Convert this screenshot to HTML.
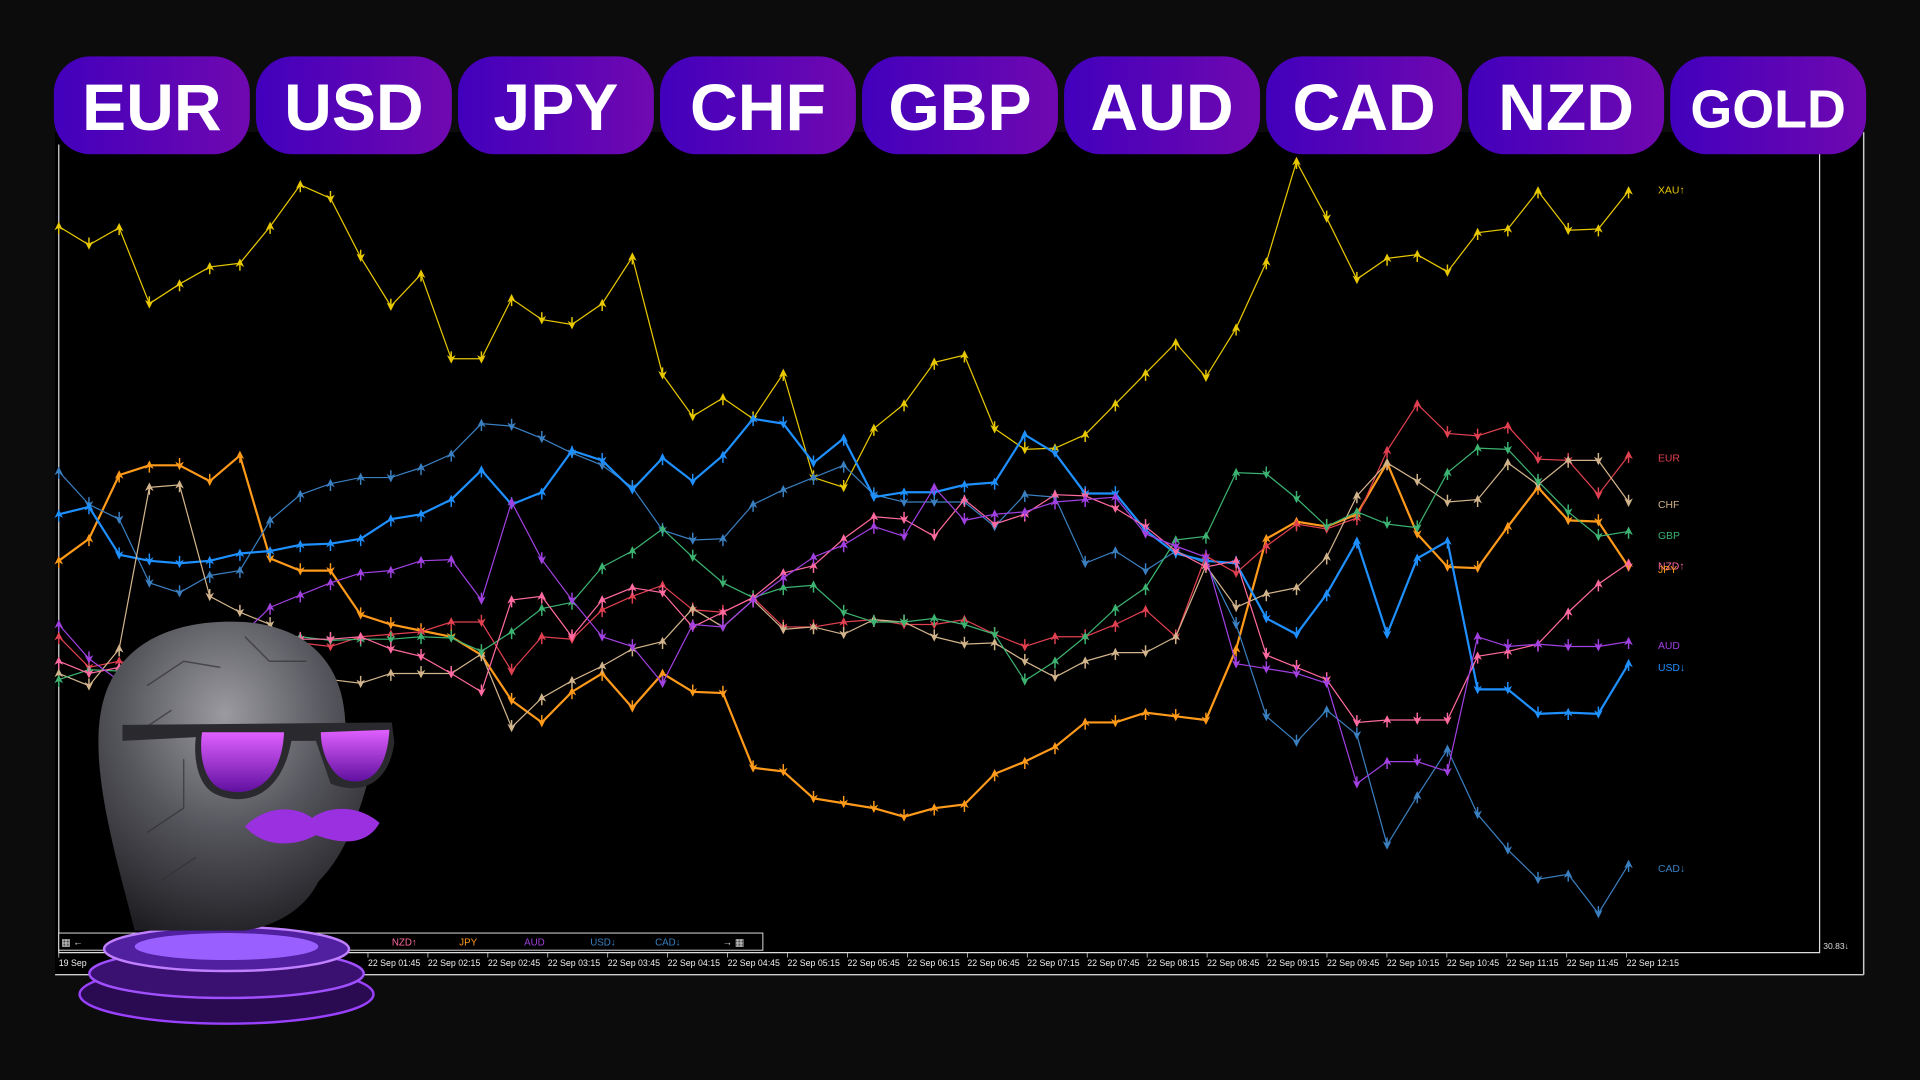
<!DOCTYPE html>
<html><head><meta charset="utf-8"><style>
html,body{margin:0;padding:0;background:#0c0c0c;width:1920px;height:1080px;overflow:hidden}
svg{display:block}
</style></head><body>
<svg id="s" width="1920" height="1080" viewBox="0 0 1568 882" xmlns="http://www.w3.org/2000/svg">
<defs>
<linearGradient id="pg" x1="0" x2="1" y1="0" y2="0"><stop offset="0" stop-color="#4200bc"/><stop offset="1" stop-color="#7008b0"/></linearGradient>
<radialGradient id="hd" cx="0.45" cy="0.3" r="0.75"><stop offset="0" stop-color="#9a9aa0"/><stop offset="0.5" stop-color="#55555c"/><stop offset="1" stop-color="#1e1e22"/></radialGradient>
<linearGradient id="gl" x1="0" x2="0" y1="0" y2="1"><stop offset="0" stop-color="#e060ff"/><stop offset="1" stop-color="#6010a0"/></linearGradient>
</defs>
<rect x="45" y="108" width="1477" height="688" fill="#000"/>
<line x1="1522" y1="108" x2="1522" y2="796" stroke="#ccc" stroke-width="1.2"/>
<line x1="45" y1="796" x2="1522" y2="796" stroke="#ccc" stroke-width="1.2"/>
<polyline points="48,118 48,778 1486,778 1486,118" fill="none" stroke="#ddd" stroke-width="1"/>
<text x="1489" y="775" fill="#ddd" font-family="Liberation Sans,sans-serif" font-size="7">30.83↓</text>
<g id="lines"></g>
<g id="axis" font-family="Liberation Sans,sans-serif" font-size="7.2" fill="#eee"></g>
<rect x="48" y="762" width="575" height="14" fill="#000" stroke="#ddd" stroke-width="0.8"/>
<g font-family="Liberation Sans,sans-serif" font-size="8">
<text x="50" y="772" fill="#ddd">▦ ←</text>
<text x="320" y="772" fill="#ff6aa0">NZD↑</text>
<text x="375" y="772" fill="#ff9a1a">JPY</text>
<text x="428" y="772" fill="#a040e0">AUD</text>
<text x="482" y="772" fill="#3a7fc0">USD↓</text>
<text x="535" y="772" fill="#3a7fc0">CAD↓</text>
<text x="590" y="772" fill="#ddd">→ ▦</text>
</g>
<g id="pills" font-family="Liberation Sans,DejaVu Sans,sans-serif" font-weight="bold" font-size="54" fill="#fff" text-anchor="middle"></g>
<!-- head -->
<g>
<ellipse cx="185" cy="812" rx="120" ry="24" fill="#2a0a50" stroke="#9a40ff" stroke-width="2"/>
<ellipse cx="185" cy="795" rx="112" ry="20" fill="#3a1070" stroke="#a050ff" stroke-width="2"/>
<ellipse cx="185" cy="775" rx="100" ry="18" fill="#5020a0" stroke="#c080ff" stroke-width="2"/>
<ellipse cx="185" cy="773" rx="75" ry="11" fill="#9a60ff"/>
<path d="M110,760 C95,700 70,620 85,570 C100,520 150,505 200,508 C250,512 280,540 282,590 L310,600 C300,640 290,690 260,720 C250,740 230,755 200,760 Z" fill="url(#hd)"/>
<g stroke="#333" stroke-width="1.2" fill="none" opacity="0.7">
<path d="M120,560 L150,540 L180,545 M110,600 L140,580 M120,680 L150,660 L150,620 M200,520 L220,540 L250,540 M130,720 L160,700"/>
</g>
<path d="M100,592 L320,590 L322,606 C318,640 295,650 270,640 L258,605 L238,605 C230,650 200,660 175,648 C160,640 158,615 160,602 L100,605 Z" fill="#2a2a2e"/>
<path d="M165,598 L232,598 C230,640 205,652 182,645 C168,640 162,620 165,598 Z" fill="url(#gl)"/>
<path d="M262,598 L318,596 C316,632 300,642 282,637 C270,632 262,615 262,598 Z" fill="url(#gl)"/>
<path d="M200,675 C220,655 245,660 255,668 C265,660 290,655 310,672 C300,690 280,690 258,682 C240,692 215,692 200,675 Z" fill="#9a30e0"/>
</g>
</svg>
<script>
const NS="http://www.w3.org/2000/svg";
const xs=[];for(let i=0;i<53;i++)xs.push(48+i*(1282/52));
const S=[
["#e8c800",[185,200,186,248,232,218,215,185,151,162,210,250,224,293,293,244,261,265,248,210,306,340,325,342,305,390,398,350,330,296,290,350,367,366,355,330,305,280,308,268,214,132,178,228,211,208,222,190,187,156,188,187,156]],
["#ff9a1a",[458,440,388,380,380,393,372,456,466,466,502,510,515,520,535,572,590,565,550,578,550,565,566,627,630,652,656,660,667,660,657,632,622,610,590,590,582,585,588,530,440,426,430,420,378,436,463,464,430,398,425,426,463]],
["#3a7fc0",[385,412,424,476,484,470,466,425,404,395,390,390,382,371,346,348,358,370,380,398,433,441,440,412,400,390,380,404,410,410,410,430,404,406,460,450,466,450,460,510,585,606,580,600,690,650,612,665,694,718,714,746,706]],
["#1e90ff",[420,414,453,458,460,458,452,450,445,444,440,424,420,408,384,412,402,368,376,400,374,393,372,342,346,378,358,406,402,402,396,394,355,370,403,403,433,452,458,460,505,518,485,442,518,456,442,563,563,583,582,583,542]],
["#e04050",[520,545,540,546,543,545,536,527,525,528,520,518,516,508,508,548,520,522,498,487,478,498,500,488,512,512,508,506,510,510,506,518,528,520,520,510,498,520,454,468,446,428,432,423,368,330,354,356,348,375,376,404,372]],
["#d2b48c",[550,560,530,398,396,487,500,510,540,555,558,550,550,550,534,594,570,556,544,530,524,497,512,490,514,512,518,506,508,520,526,525,540,553,540,533,533,520,462,496,485,480,455,405,378,393,410,408,378,396,376,376,410]],
["#3cb371",[555,547,548,540,528,530,528,522,520,523,522,522,520,521,532,516,497,492,463,450,432,455,476,488,480,478,500,508,508,505,510,518,556,540,520,497,480,441,438,386,387,407,430,418,428,431,386,366,367,393,418,438,434]],
["#ff6aa0",[540,550,545,538,530,528,525,522,522,522,520,530,536,550,565,490,487,520,490,480,484,512,500,488,468,462,440,422,424,438,408,428,420,404,405,415,430,450,463,458,535,545,555,590,588,588,588,536,532,526,500,477,460]],
["#a040e0",[510,538,556,560,530,540,520,496,486,476,468,466,458,457,490,410,457,490,520,528,558,510,512,490,472,455,445,430,438,398,425,420,418,410,408,406,436,446,455,542,546,550,558,640,622,622,630,520,528,526,528,528,524]]
];
const g=document.getElementById('lines');
S.forEach(([c,ys])=>{
 const pl=document.createElementNS(NS,'polyline');
 pl.setAttribute('points',ys.map((y,i)=>xs[i].toFixed(1)+','+y).join(' '));
 pl.setAttribute('fill','none');pl.setAttribute('stroke',c);pl.setAttribute('stroke-width',c=="#1e90ff"||c=="#ff9a1a"?1.8:1);
 g.appendChild(pl);
 ys.forEach((y,i)=>{const up=i==0?true:y<ys[i-1];const x=xs[i];
  const p=document.createElementNS(NS,'path');
  const d=up?`M${x-3.5},${y+3} L${x},${y-4} L${x+3.5},${y+3} L${x},${y+1}Z M${x-0.6},${y} h1.2 v6 h-1.2Z`:`M${x-3.5},${y-3} L${x},${y+4} L${x+3.5},${y-3} L${x},${y-1}Z M${x-0.6},${y} h1.2 v-6 h-1.2Z`;
  p.setAttribute('d',d);p.setAttribute('fill',c);g.appendChild(p);});
});
const L=[["XAU↑",155,"#e8c800"],["EUR",374,"#e04050"],["CHF",412,"#d2b48c"],["GBP",437,"#3cb371"],["NZD↑",462,"#ff6aa0"],["JPY",465,"#ff9a1a"],["AUD",527,"#a040e0"],["USD↓",545,"#1e90ff"],["CAD↓",709,"#3a7fc0"]];
L.forEach(([t,y,c])=>{const e=document.createElementNS(NS,'text');e.setAttribute('x',1354);e.setAttribute('y',y+3);e.setAttribute('fill',c);e.setAttribute('font-size','8.5');e.setAttribute('font-family','Liberation Sans,sans-serif');e.textContent=t;g.appendChild(e);});
const ax=document.getElementById('axis');
function tx(x,t){const e=document.createElementNS(NS,'text');e.setAttribute('x',x);e.setAttribute('y',789);e.textContent=t;ax.appendChild(e);
 const l=document.createElementNS(NS,'line');l.setAttribute('x1',x);l.setAttribute('x2',x);l.setAttribute('y1',778);l.setAttribute('y2',782);l.setAttribute('stroke','#ddd');l.setAttribute('stroke-width','0.6');ax.appendChild(l);}
tx(48,"19 Sep");
const times=["01:45","02:15","02:45","03:15","03:45","04:15","04:45","05:15","05:45","06:15","06:45","07:15","07:45","08:15","08:45","09:15","09:45","10:15","10:45","11:15","11:45","12:15"];
times.forEach((t,i)=>tx(300.5+i*48.95,"22 Sep "+t));
const P=["EUR","USD","JPY","CHF","GBP","AUD","CAD","NZD","GOLD"];
const pg=document.getElementById('pills');
P.forEach((t,i)=>{const x=44+i*165;
 const r=document.createElementNS(NS,'rect');r.setAttribute('x',x);r.setAttribute('y',46);r.setAttribute('width',160);r.setAttribute('height',80);r.setAttribute('rx',30);r.setAttribute('fill','url(#pg)');pg.appendChild(r);
 const e=document.createElementNS(NS,'text');e.setAttribute('x',x+80);e.setAttribute('y',t=="GOLD"?104:106);e.textContent=t;if(t=="GOLD")e.setAttribute('font-size','44');pg.appendChild(e);});
</script>
</body></html>
